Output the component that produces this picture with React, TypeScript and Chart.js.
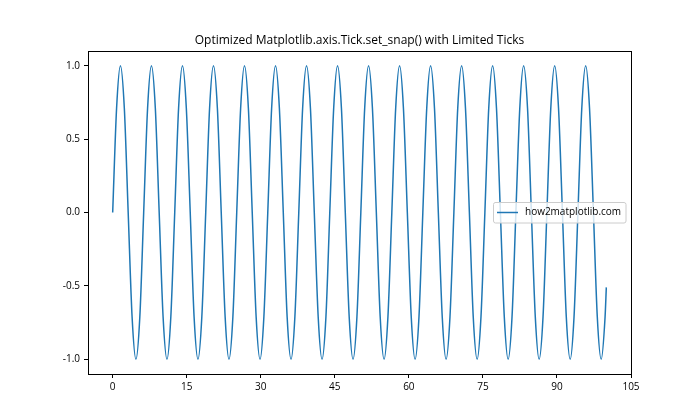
import React, { useEffect, useRef } from "react";
import { Chart, registerables } from "chart.js";

Chart.register(...registerables);

const TITLE = "Optimized Matplotlib.axis.Tick.set_snap() with Limited Ticks";
const SERIES_LABEL = "how2matplotlib.com";

const xValues = [
  0, 0.79, 1.57, 2.36, 3.14, 3.93, 4.71, 5.5,
  6.28, 7.07, 7.85, 8.64, 9.42, 10.21, 11.0, 11.78,
  12.57, 13.35, 14.14, 14.92, 15.71, 16.49, 17.28, 18.06,
  18.85, 19.63, 20.42, 21.21, 21.99, 22.78, 23.56, 24.35,
  25.13, 25.92, 26.7, 27.49, 28.27, 29.06, 29.85, 30.63,
  31.42, 32.2, 32.99, 33.77, 34.56, 35.34, 36.13, 36.91,
  37.7, 38.48, 39.27, 40.06, 40.84, 41.63, 42.41, 43.2,
  43.98, 44.77, 45.55, 46.34, 47.12, 47.91, 48.69, 49.48,
  50.27, 51.05, 51.84, 52.62, 53.41, 54.19, 54.98, 55.76,
  56.55, 57.33, 58.12, 58.9, 59.69, 60.48, 61.26, 62.05,
  62.83, 63.62, 64.4, 65.19, 65.97, 66.76, 67.54, 68.33,
  69.12, 69.9, 70.69, 71.47, 72.26, 73.04, 73.83, 74.61,
  75.4, 76.18, 76.97, 77.75, 78.54, 79.33, 80.11, 80.9,
  81.68, 82.47, 83.25, 84.04, 84.82, 85.61, 86.39, 87.18,
  87.96, 88.75, 89.54, 90.32, 91.11, 91.89, 92.68, 93.46,
  94.25, 95.03, 95.82, 96.6, 97.39, 98.17, 98.96, 99.75,
  100,
];

const yValues = [
  0, 0.71, 1, 0.71, 0, -0.71, -1, -0.71,
  0, 0.71, 1, 0.71, 0, -0.71, -1, -0.71,
  0, 0.71, 1, 0.71, 0, -0.71, -1, -0.71,
  0, 0.71, 1, 0.71, 0, -0.71, -1, -0.71,
  0, 0.71, 1, 0.71, 0, -0.71, -1, -0.71,
  0, 0.71, 1, 0.71, 0, -0.71, -1, -0.71,
  0, 0.71, 1, 0.71, 0, -0.71, -1, -0.71,
  0, 0.71, 1, 0.71, 0, -0.71, -1, -0.71,
  0, 0.71, 1, 0.71, 0, -0.71, -1, -0.71,
  0, 0.71, 1, 0.71, 0, -0.71, -1, -0.71,
  0, 0.71, 1, 0.71, 0, -0.71, -1, -0.71,
  0, 0.71, 1, 0.71, 0, -0.71, -1, -0.71,
  0, 0.71, 1, 0.71, 0, -0.71, -1, -0.71,
  0, 0.71, 1, 0.71, 0, -0.71, -1, -0.71,
  0, 0.71, 1, 0.71, 0, -0.71, -1, -0.71,
  0, 0.71, 1, 0.71, 0, -0.71, -1, -0.71,
  -0.51,
];

const xTicks = [0, 15, 30, 45, 60, 75, 90, 105];
const yTicks = [-1.0, -0.5, 0.0, 0.5, 1.0];

const FONT = "'Open Sans', 'Noto Sans', sans-serif";
const LINE_COLOR = "#1f77b4";

export default function App() {
  const canvasRef = useRef<HTMLCanvasElement | null>(null);

  useEffect(() => {
    document.body.style.margin = "0";
    const canvas = canvasRef.current;
    if (!canvas) return;

    const framePlugin = {
      id: "frame",
      afterDraw(chart: any) {
        const { ctx, chartArea } = chart;
        ctx.save();
        ctx.strokeStyle = "#000";
        ctx.lineWidth = 1;
        ctx.strokeRect(
          Math.round(chartArea.left) + 0.5,
          Math.round(chartArea.top) + 0.5,
          Math.round(chartArea.right - chartArea.left),
          Math.round(chartArea.bottom - chartArea.top)
        );
        // title
        ctx.fillStyle = "#000";
        ctx.font = `12px ${FONT}`;
        ctx.textAlign = "center";
        ctx.textBaseline = "alphabetic";
        ctx.fillText(TITLE, (chartArea.left + chartArea.right) / 2, 44);
        // legend
        const bx = 493, by = 202, bw = 133, bh = 21;
        ctx.fillStyle = "rgba(255,255,255,0.8)";
        ctx.strokeStyle = "#cccccc";
        ctx.beginPath();
        const r = 2;
        ctx.moveTo(bx + r, by + 0.5);
        ctx.arcTo(bx + bw, by + 0.5, bx + bw, by + bh, r);
        ctx.arcTo(bx + bw, by + bh, bx, by + bh, r);
        ctx.arcTo(bx + 0.5, by + bh, bx + 0.5, by, r);
        ctx.arcTo(bx + 0.5, by + 0.5, bx + bw, by + 0.5, r);
        ctx.closePath();
        ctx.fill();
        ctx.stroke();
        ctx.strokeStyle = LINE_COLOR;
        ctx.lineWidth = 1.5;
        ctx.beginPath();
        ctx.moveTo(497, 212.5);
        ctx.lineTo(518, 212.5);
        ctx.stroke();
        ctx.fillStyle = "#000";
        ctx.font = `10px ${FONT}`;
        ctx.textAlign = "left";
        ctx.textBaseline = "middle";
        ctx.fillText(SERIES_LABEL, 525, 212.5);
        ctx.restore();
      },
    };

    const chart = new Chart(canvas, {
      type: "line",
      data: {
        datasets: [
          {
            label: SERIES_LABEL,
            data: xValues.map((x, i) => ({ x, y: yValues[i] })),
            borderColor: LINE_COLOR,
            borderWidth: 1.5,
            pointRadius: 0,
            fill: false,
            cubicInterpolationMode: "monotone",
          },
        ],
      },
      options: {
        animation: false,
        responsive: false,
        maintainAspectRatio: false,
        layout: { padding: { left: 48, top: 51, right: 69, bottom: 16 } },
        plugins: {
          legend: { display: false },
          title: { display: false },
          tooltip: { enabled: false },
        },
        scales: {
          x: {
            type: "linear",
            min: -5,
            max: 105,
            afterBuildTicks: (scale: any) => {
              scale.ticks = xTicks.map((v) => ({ value: v }));
            },
            afterFit: (scale: any) => {
              scale.height = 30;
            },
            grid: {
              drawOnChartArea: false,
              drawTicks: true,
              tickLength: 4,
              color: "#000",
            },
            border: { display: true, color: "#000" },
            ticks: {
              color: "#000",
              font: { family: FONT, size: 10 },
              padding: 3,
              maxRotation: 0,
              callback: (v: any) => String(v),
            },
          },
          y: {
            type: "linear",
            min: -1.1,
            max: 1.1,
            afterBuildTicks: (scale: any) => {
              scale.ticks = yTicks.map((v) => ({ value: v }));
            },
            afterFit: (scale: any) => {
              scale.width = 40;
            },
            grid: {
              drawOnChartArea: false,
              drawTicks: true,
              tickLength: 4,
              color: "#000",
            },
            border: { display: true, color: "#000" },
            ticks: {
              color: "#000",
              font: { family: FONT, size: 10 },
              padding: 4,
              callback: (v: any) => Number(v).toFixed(1),
            },
          },
        },
      },
      plugins: [framePlugin],
    } as any);

    return () => chart.destroy();
  }, []);

  return (
    <div style={{ width: 700, height: 420 }}>
      <canvas ref={canvasRef} width={700} height={420} style={{ display: "block" }} />
    </div>
  );
}
